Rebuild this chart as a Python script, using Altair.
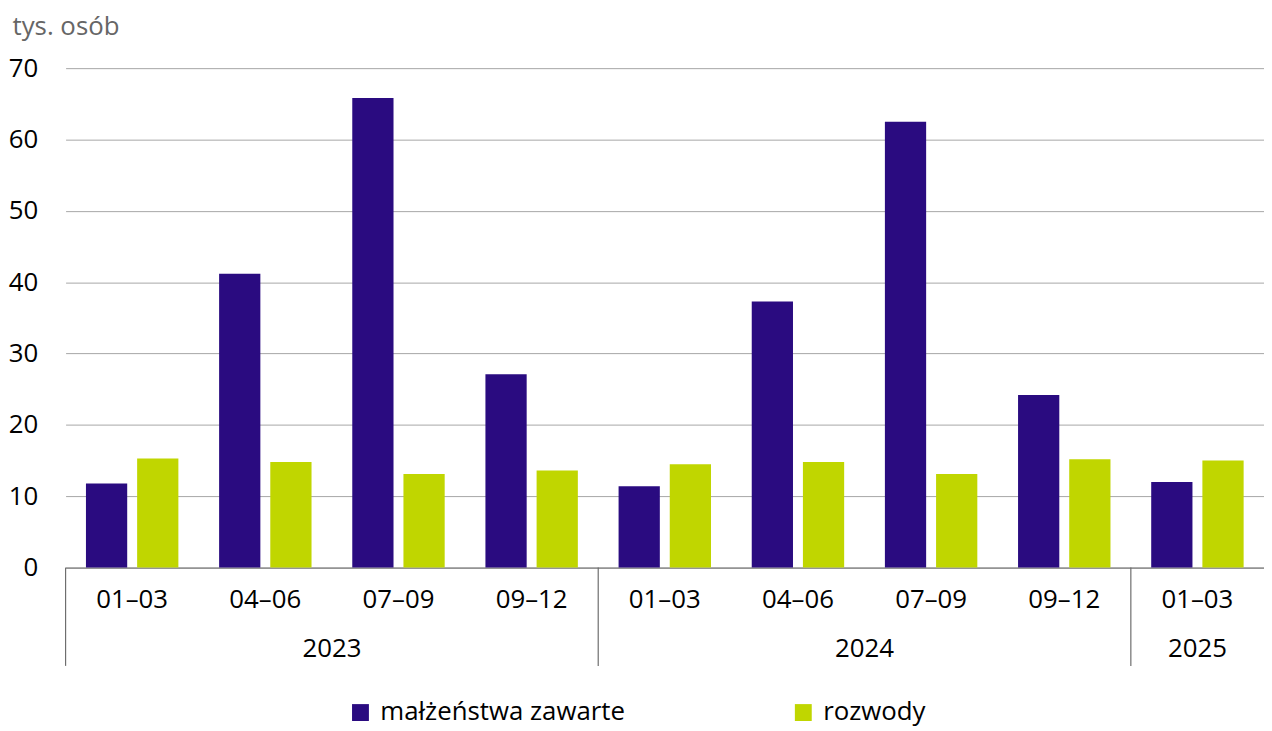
import altair as alt
import pandas as pd

quarters = ["01–03", "04–06", "07–09", "09–12", "01–03", "04–06", "07–09", "09–12", "01–03"]
years = ["2023", "2023", "2023", "2023", "2024", "2024", "2024", "2024", "2025"]
marriages = [11.8, 41.2, 65.8, 27.1, 11.4, 37.3, 62.5, 24.2, 12.0]
divorces = [15.3, 14.8, 13.1, 13.6, 14.5, 14.8, 13.1, 15.2, 15.0]
series_names = ["małżeństwa zawarte", "rozwody"]
series_colors = ["#2a0b80", "#c0d600"]
y_ticks = [0, 10, 20, 30, 40, 50, 60, 70]

keys = [f"{y} {q}" for y, q in zip(years, quarters)]

rows = []
for k, m, d in zip(keys, marriages, divorces):
    rows.append({"key": k, "series": series_names[0], "value": m})
    rows.append({"key": k, "series": series_names[1], "value": d})
bars_df = pd.DataFrame(rows)

# group separators and year labels
year_order = []
for y in years:
    if y not in year_order:
        year_order.append(y)
sep_rows, ylab_rows = [], []
for y in year_order:
    ks = [k for k, yy in zip(keys, years) if yy == y]
    sep_rows.append({"key": ks[0]})
    n = len(ks)
    if n % 2 == 0:
        ylab_rows.append({"key": ks[n // 2 - 1], "year": y, "band": 1.0})
    else:
        ylab_rows.append({"key": ks[n // 2], "year": y, "band": 0.5})
sep_df = pd.DataFrame(sep_rows)
ylab_df = pd.DataFrame(ylab_rows)

W, H = 1207, 503
FONT = "Open Sans"

xscale = alt.Scale(paddingInner=0, paddingOuter=0)

bars = alt.Chart(bars_df).mark_bar().encode(
    x=alt.X("key:N", sort=keys, scale=xscale,
            axis=alt.Axis(title=None, labelExpr="split(datum.value, ' ')[1]",
                          ticks=False, domainColor="#808080", domainWidth=1.2,
                          labelFontSize=26, labelColor="#000000", labelPadding=19,
                          labelAngle=0, grid=False)),
    xOffset=alt.XOffset("series:N", sort=series_names,
                        scale=alt.Scale(paddingInner=0.194, paddingOuter=0.398)),
    y=alt.Y("value:Q", scale=alt.Scale(domain=[0, 70], nice=False),
            axis=alt.Axis(values=y_ticks, grid=True, gridColor="#a6a6a6", domain=False,
                          ticks=False, labelFontSize=26, labelColor="#000000",
                          labelPadding=28, title="tys. osób", titleAngle=0,
                          titleX=-54, titleY=-34, titleAlign="left",
                          titleBaseline="alphabetic", titleFontSize=26,
                          titleFontWeight="normal", titleColor="#666666")),
    color=alt.Color("series:N", sort=series_names,
                    scale=alt.Scale(domain=series_names, range=series_colors),
                    legend=alt.Legend(orient="none", legendX=284, legendY=636,
                                      direction="horizontal", title=None,
                                      symbolType="square", symbolSize=289,
                                      symbolStrokeWidth=0, labelFontSize=26,
                                      labelColor="#000000", labelOffset=7,
                                      labelLimit=0,
                                      columnPadding=166, padding=0)),
)

seps = alt.Chart(sep_df).mark_rule(color="#6e6e6e", strokeWidth=1.2).encode(
    x=alt.X("key:N", sort=keys, bandPosition=0),
    y=alt.value(H),
    y2=alt.value(H + 99),
)

ylab_full = alt.Chart(ylab_df).transform_filter("datum.band == 1").mark_text(
    fontSize=26, baseline="middle", align="center", color="#000000"
).encode(
    x=alt.X("key:N", sort=keys, bandPosition=1),
    y=alt.value(H + 82),
    text="year:N",
)
ylab_half = alt.Chart(ylab_df).transform_filter("datum.band == 0.5").mark_text(
    fontSize=26, baseline="middle", align="center", color="#000000"
).encode(
    x=alt.X("key:N", sort=keys, bandPosition=0.5),
    y=alt.value(H + 82),
    text="year:N",
)

chart = alt.layer(bars, seps, ylab_full, ylab_half).properties(
    width=W, height=H,
    padding={"left": 58, "top": 58, "right": 0, "bottom": 162},
    autosize=alt.AutoSizeParams(type="none"),
).configure(font=FONT).configure_view(stroke=None)

chart.save("out.html", embed_options={"renderer": "svg", "actions": False})
